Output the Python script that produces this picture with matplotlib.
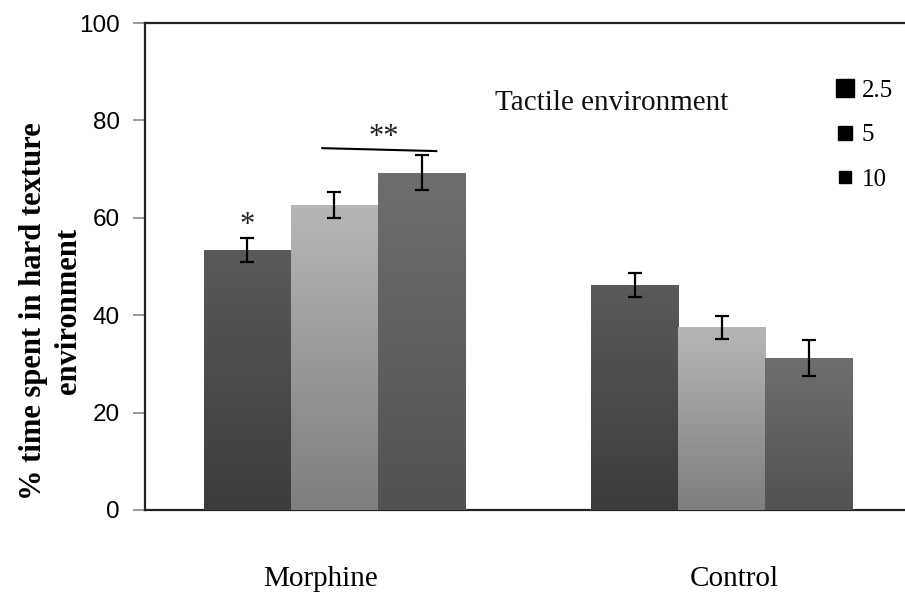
import numpy as np
import matplotlib.pyplot as plt
from matplotlib.colors import LinearSegmentedColormap
from matplotlib.lines import Line2D

# values (mean +/- error, % time)
groups = ["Morphine", "Control"]
doses = ["2.5", "5", "10"]
morphine_mean = [53.4, 62.6, 69.3]
morphine_err = [2.4, 2.7, 3.5]
control_mean = [46.2, 37.5, 31.3]
control_err = [2.4, 2.35, 3.7]

# shading per dose (top colour, bottom colour)
bar_top = ["#5a5a5a", "#b6b6b6", "#6e6e6e"]
bar_bottom = ["#3c3c3c", "#7e7e7e", "#525252"]
legend_sizes = [13, 9.5, 9]

serif = "Liberation Serif"
sans = "Liberation Sans"

fig = plt.figure(figsize=(9.05, 6.02), dpi=100)
ax = fig.add_axes([145 / 905, 1 - 510 / 602, 1 - 145 / 905, (510 - 23) / 602])

group_start = [0, 4.45]
label_shift = [-0.16, 0.14]
means = [morphine_mean, control_mean]
errs = [morphine_err, control_err]

for g, start in enumerate(group_start):
    for i in range(len(doses)):
        x = start + i
        bc = ax.bar(x, means[g][i], width=1.0, color=bar_bottom[i],
                    edgecolor="white", linewidth=1.0, zorder=2)
        rect = bc.patches[0]
        cmap = LinearSegmentedColormap.from_list("shade", [bar_bottom[i], bar_top[i]])
        grad = np.linspace(0, 1, 100).reshape(-1, 1)
        im = ax.imshow(grad, cmap=cmap, origin="lower", aspect="auto",
                       extent=(rect.get_x(), rect.get_x() + rect.get_width(), 0, rect.get_height()),
                       zorder=2.1)
        im.set_clip_path(rect)
        ax.errorbar(x, means[g][i], yerr=errs[g][i], fmt="none", ecolor="black",
                    elinewidth=1.6, capsize=5, capthick=1.6, zorder=4)

# significance marks
ax.text(0, 58.5, "*", ha="center", va="center", fontsize=22, family=serif, color="#222222")
ax.text(1.57, 76.4, "**", ha="center", va="center", fontsize=22, family=serif, color="#222222")
ax.plot([0.86, 2.17], [74.3, 73.7], color="black", linewidth=1.5, zorder=4)

ax.text(4.18, 83.6, "Tactile environment", ha="center", va="center", fontsize=21,
        family=serif, color="#111111")

ax.set_xlim(-1.178, 7.557)
ax.set_ylim(0, 100)
ax.set_yticks([0, 20, 40, 60, 80, 100])
ax.set_xticks([start + 1 + s for start, s in zip(group_start, label_shift)])
ax.set_xticklabels(groups, fontsize=21, family=serif)
for lab in ax.get_yticklabels():
    lab.set_family(sans)
ax.tick_params(axis="x", length=0, pad=40)
ax.tick_params(axis="y", direction="out", length=8.6, width=1.2, color="#888888",
               pad=9.4, labelsize=17.5)

ax.spines["right"].set_visible(False)
for side in ["left", "top", "bottom"]:
    ax.spines[side].set_linewidth(1.6)
    ax.spines[side].set_color("#222222")
ax.spines["bottom"].set_zorder(1)

handles = [Line2D([], [], marker="s", color="black", linestyle="none", markersize=s)
           for s in legend_sizes]
ax.legend(handles, doses, loc="upper left", bbox_to_anchor=(0.895, 0.905), frameon=False,
          prop={"family": serif, "size": 18}, handlelength=0.8, handletextpad=0.25,
          labelspacing=0.88, borderaxespad=0)

fig.text(51 / 905, 1 - 311 / 602, "% time spent in hard texture\nenvironment", rotation=90,
         ha="center", va="center", fontsize=22, fontweight="bold", family=serif,
         linespacing=1.3)

fig.savefig("out.png", dpi=100)
